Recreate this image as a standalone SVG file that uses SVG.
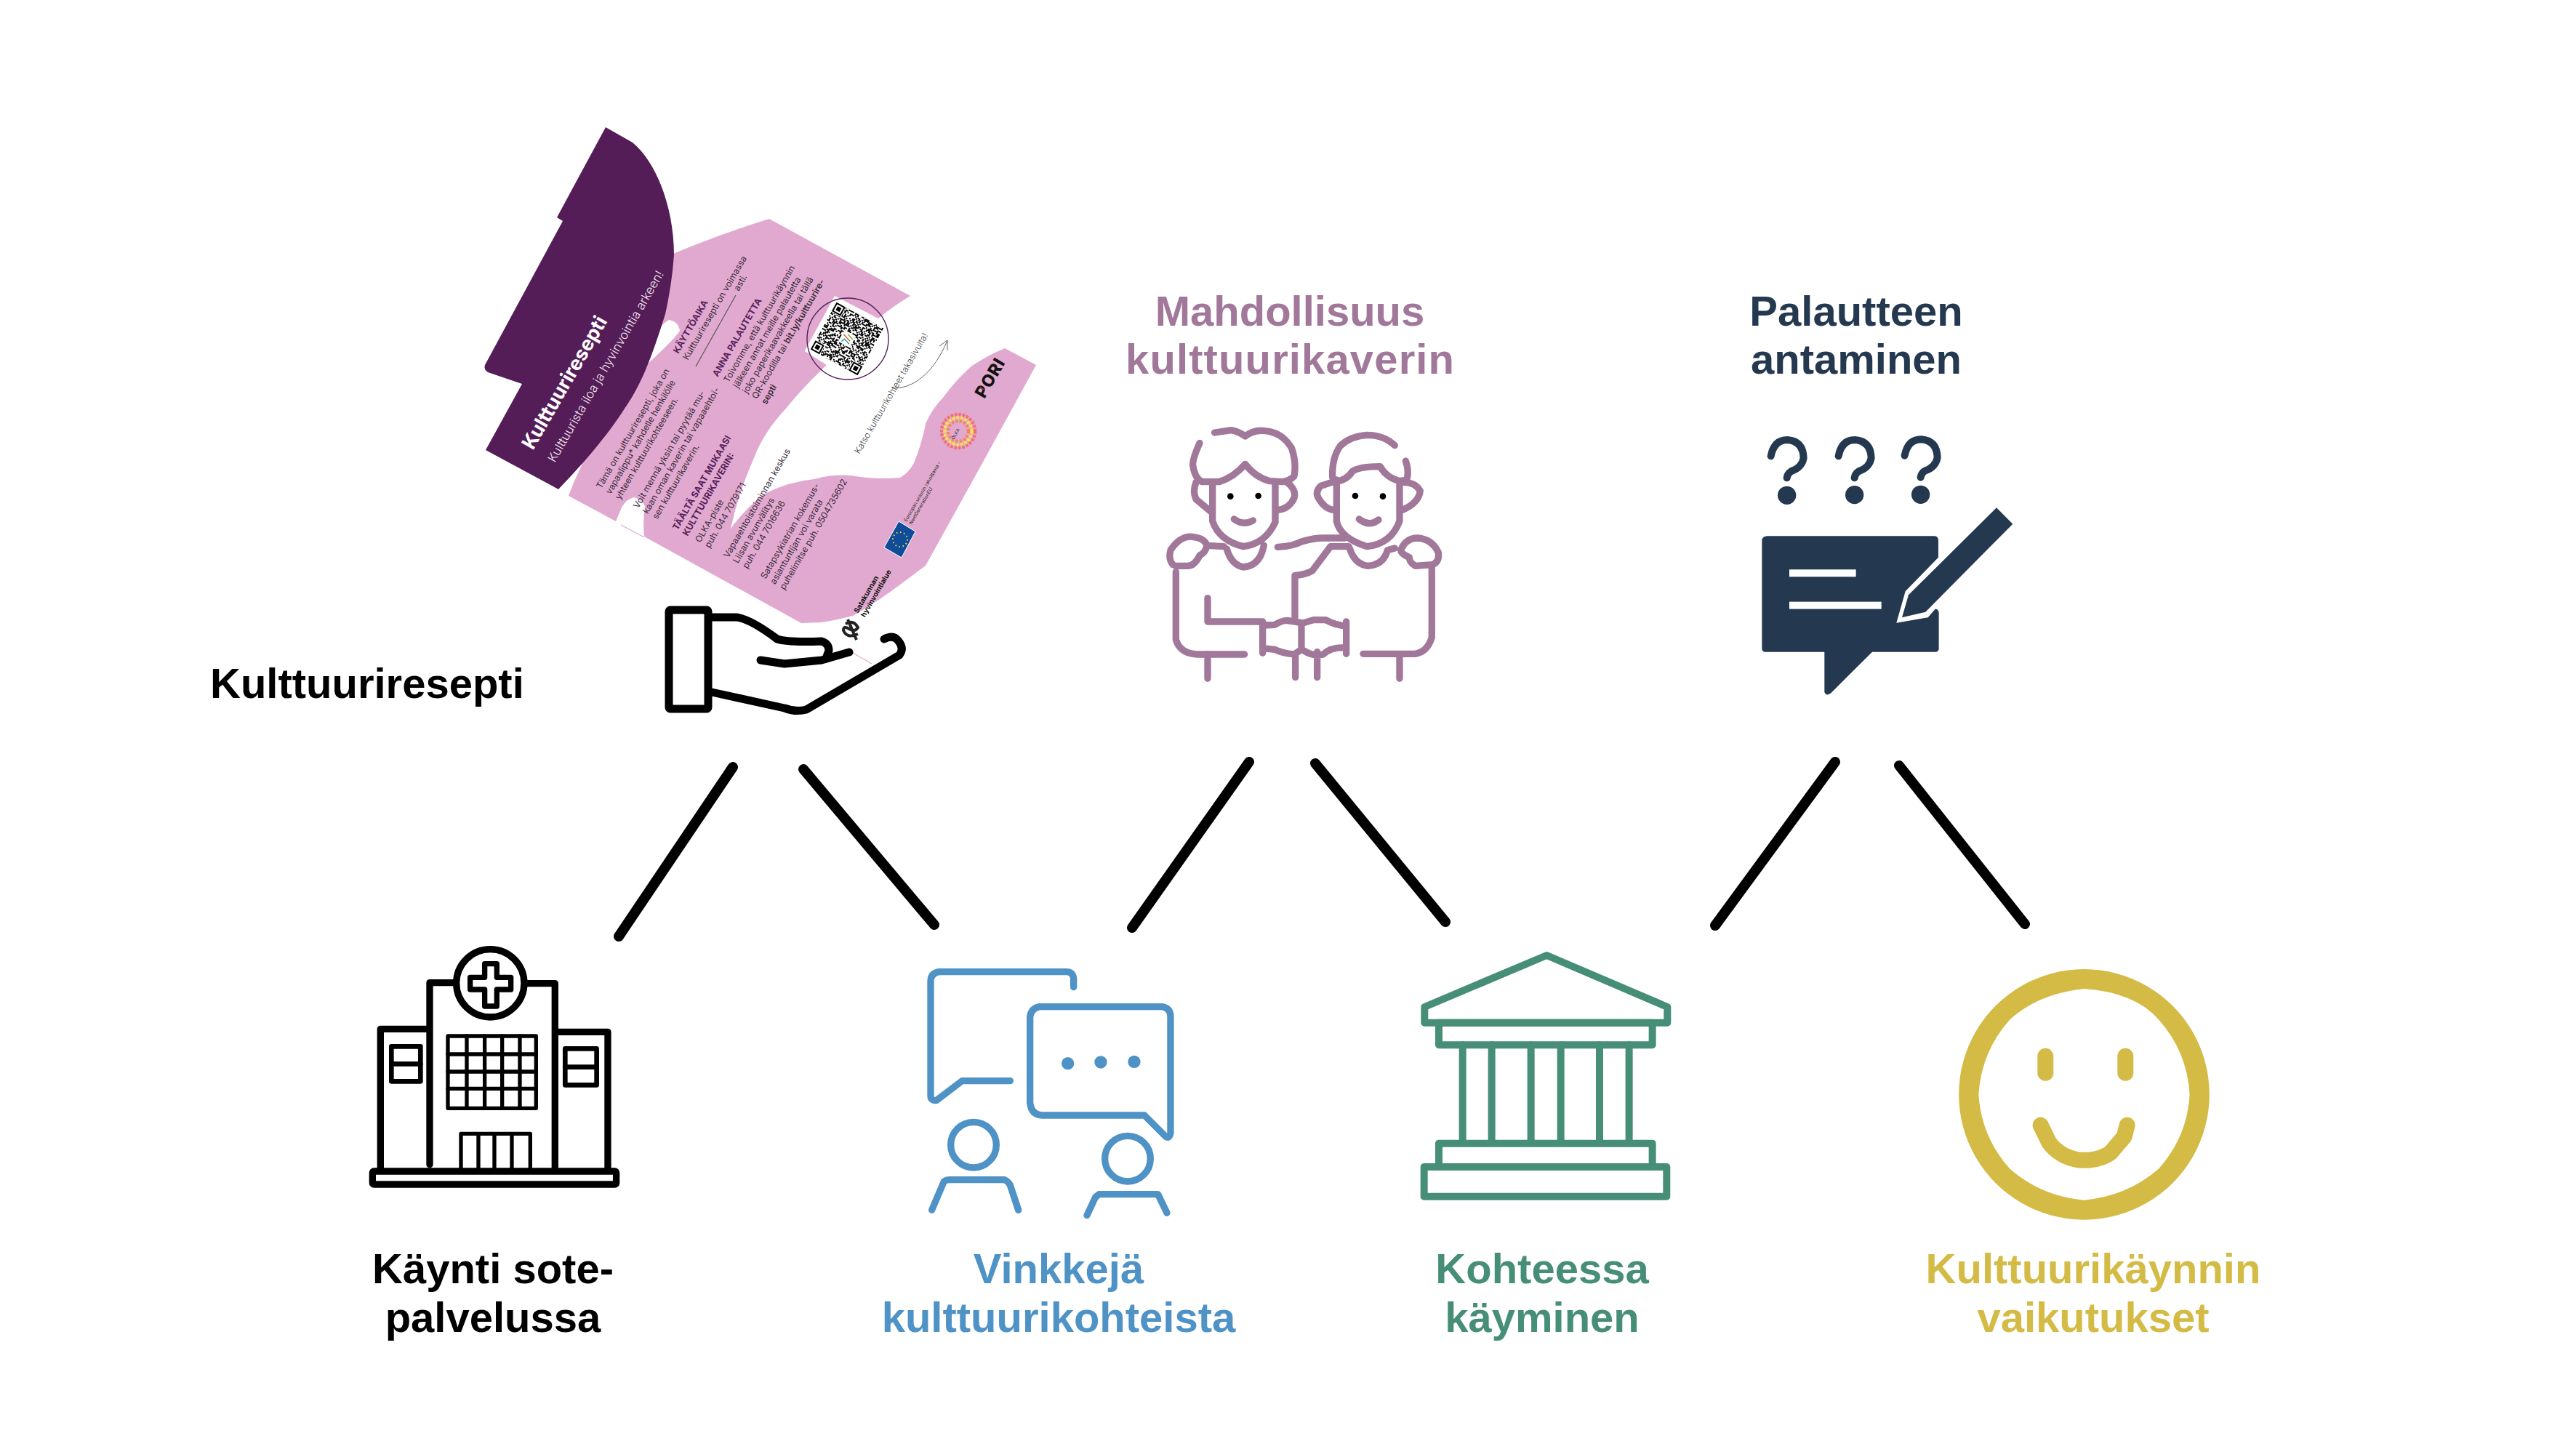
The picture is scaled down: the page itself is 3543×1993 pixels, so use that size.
<svg xmlns="http://www.w3.org/2000/svg" width="3543" height="1993" viewBox="0 0 3543 1993">
<style>
.lab{font-family:"Liberation Sans",Arial,sans-serif;font-weight:700;font-size:58px;text-anchor:middle}
.ln{fill:none;stroke-linecap:round;stroke-linejoin:round}
.t{font-family:Inter,"Liberation Sans",sans-serif;font-size:12.2px;fill:#3b2b3c}
.h{font-family:Inter,"Liberation Sans",sans-serif;font-size:12.4px;font-weight:700;fill:#55205a}
.q{fill:none;stroke:#000;stroke-width:2}
.conn{stroke:#000;stroke-width:14;stroke-linecap:round}
</style>
<rect width="3543" height="1993" fill="#fff"/>
<g id="connectors">
<path class="conn" d="M1008 1055L851 1288"/>
<path class="conn" d="M1105 1058L1285 1272"/>
<path class="conn" d="M1718 1048L1557 1276"/>
<path class="conn" d="M1809 1050L1988 1268"/>
<path class="conn" d="M2524 1048L2359 1273"/>
<path class="conn" d="M2612 1053L2785 1271"/>
</g>
<g id="leaflet">
<path fill="#e1a9cf" d="M900 360Q980 325 1058 301L1252 407Q1230 420 1208 438L1148 407L1107 483L1137 502Q1105 532 1080 563Q1050 595 1037 630Q1015 680 1005 727Q1025 700 1050 680Q1085 662 1120 659Q1145 652 1170 654Q1205 660 1238 657Q1250 650 1257 637Q1268 610 1273 583Q1282 562 1297 547Q1315 522 1337 503Q1360 488 1382 479L1425 502Q1350 640 1273 778L1230 810Q1200 832 1173 847Q1150 853 1130 856L1102 857L886 738Q884 715 887 697Q885 688 872 684Q862 686 855 698L847 717L782 682Q790 660 800 640Z"/>
<path fill="#fff" d="M890 480Q905 448 920 440Q933 442 935 455Q925 470 880 510Z"/>
<path stroke="#e1a9cf" stroke-width="1.2" fill="none" d="M854 722L886 739M1173 898L1199 913"/>
<path fill="#551d57" d="M833 175L870 196C905 225 927 290 927 350C925 380 920 410 915 432C900 480 885 525 859 562C835 600 800 640 768 673L668 619L718 528L671 512Q665 508 667 502L774 304L766 299Z"/>
<text transform="translate(733 620) rotate(-60)" font-family="Inter,'Liberation Sans',sans-serif" font-size="27" font-weight="700" fill="#fff">Kulttuuriresepti</text>
<text transform="translate(763 637) rotate(-60)" font-family="Inter,'Liberation Sans',sans-serif" font-size="17" font-weight="300" fill="#f0e6f0">Kulttuurista iloa ja hyvinvointia arkeen!</text>
<text class="t" transform="translate(827 673) rotate(-60)"><tspan x="0">Tämä on kulttuuriresepti, joka on</tspan><tspan x="0" dy="15">vapaalippu* kahdelle henkilölle</tspan><tspan x="0" dy="15">yhteen kulttuurikohteeseen.</tspan></text>
<text class="t" transform="translate(878 700) rotate(-60)"><tspan x="0">Voit mennä yksin tai pyytää mu-</tspan><tspan x="0" dy="15">kaan oman kaverin tai vapaaehtoi-</tspan><tspan x="0" dy="15">sen kulttuurikaverin.</tspan></text>
<text class="h" transform="translate(932 730) rotate(-60)"><tspan x="0">TÄÄLTÄ SAAT MUKAASI</tspan><tspan x="0" dy="16">KULTTUURIKAVERIN:</tspan></text>
<text class="t" transform="translate(963 747) rotate(-60)"><tspan x="0">OLKA-piste</tspan><tspan x="0" dy="15">puh. 044 7079171</tspan></text>
<text class="t" transform="translate(1002 768) rotate(-60)"><tspan x="0">Vapaaehtoistoiminnan keskus</tspan><tspan x="0" dy="15">Liisan avunvälitys</tspan><tspan x="0" dy="15">puh. 044 7016636</tspan></text>
<text class="t" transform="translate(1053 797) rotate(-60)"><tspan x="0">Satapsykiatrian kokemus-</tspan><tspan x="0" dy="15">asiantuntijan voi varata</tspan><tspan x="0" dy="15">puhelimitse puh. 0504735602</tspan></text>
<text class="h" transform="translate(933 487) rotate(-60)">KÄYTTÖAIKA</text>
<text class="t" transform="translate(946 496) rotate(-60)">Kulttuuriresepti on voimassa</text>
<path d="M957 504L1012 406" stroke="#555" stroke-width="1.2" fill="none"/>
<text class="t" transform="translate(1016 401) rotate(-60)">asti.</text>
<text class="h" transform="translate(987 519) rotate(-60)">ANNA PALAUTETTA</text>
<text class="t" transform="translate(1002 527) rotate(-60)"><tspan x="0">Toivomme, että kulttuurikäynnin</tspan><tspan x="0" dy="15">jälkeen annat meille palautetta</tspan><tspan x="0" dy="15">joko paperikaavakkeella tai tällä</tspan><tspan x="0" dy="15">QR-koodilla tai <tspan font-weight="600">bit.ly/kulttuurire-</tspan></tspan><tspan x="0" dy="15" font-weight="600">septi</tspan></text>
<g transform="translate(1124.3 477.7) rotate(-61)">
<rect x="-13" y="-13" width="86" height="86" fill="#fff"/>
<clipPath id="qc"><rect x="-7" y="-7" width="74" height="74"/></clipPath>
<g clip-path="url(#qc)">
<path class="q" stroke-dasharray="2 2 4 2 2 6 2 2 6 4 2 2 4 6 2 4 2 2 8 2 2 4 6 2 2 2 4 4 2 6 4 2 2 2" d="M-7 -6h130M-33 2h130M-13 10h130M-41 18h130M-19 26h130M-27 34h130M-9 42h130M-47 50h130M-23 58h130"/>
<path class="q" stroke-dasharray="4 2 2 4 2 2 8 2 2 4 4 2 2 6 2 2 4 2 2 2 6 4 2 2 4 2 8 2 2 4 2 2" d="M-21 -4h130M-45 4h130M-7 12h130M-35 20h130M-11 28h130M-51 36h130M-17 44h130M-29 52h130M-39 60h130"/>
<path class="q" stroke-dasharray="2 4 2 2 6 2 4 4 2 2 2 6 4 2 2 4 4 2 2 2 6 2 2 6 2 4 4 2 2 2 4 2" d="M-31 -2h130M-9 6h130M-43 14h130M-15 22h130M-37 30h130M-25 38h130M-49 46h130M-13 54h130M-5 62h130"/>
<path class="q" stroke-dasharray="6 2 2 2 4 6 2 2 2 4 2 2 4 2 2 8 2 4 2 2 4 4 6 2 2 2 2 6 2 2" d="M-15 0h130M-41 8h130M-25 16h130M-7 24h130M-47 32h130M-33 40h130M-11 48h130M-37 56h130M-19 64h130M-43 66h130"/>
</g>
<path fill="#fff" d="M-8 -8h16v16h-16zM52 -8h16v16h-16zM-8 52h16v16h-16zM21 21h18v18h-18z"/>
<g fill="none" stroke="#000" stroke-width="2"><rect x="-6" y="-6" width="12" height="12"/><rect x="54" y="-6" width="12" height="12"/><rect x="-6" y="54" width="12" height="12"/></g>
<path d="M-3 -3h6v6h-6zM57 -3h6v6h-6zM-3 57h6v6h-6z"/>
<path d="M23 25l5 2-3 9" fill="none" stroke="#2aa5b5" stroke-width="1.5"/><path d="M29 35l4-12" fill="none" stroke="#e8622c" stroke-width="1.5"/><path d="M33 37l3-9" fill="none" stroke="#7bb23f" stroke-width="1.5"/>
</g>
<circle cx="1166" cy="466" r="56" fill="none" stroke="#55205a" stroke-width="1.4"/>
<text transform="translate(1182 625) rotate(-60)" font-family="Inter,'Liberation Sans',sans-serif" font-size="12.2" font-weight="300" fill="#444">Katso kulttuurikohteet takasivulta!</text>
<path d="M1227 534C1265 535 1290 500 1303 468M1292 476L1303 468L1303 482" fill="none" stroke="#666" stroke-width="1"/>
<path d="M1236 717L1259 731L1240 767L1216 753Z" fill="#0f4c9a" stroke="#fff" stroke-width="1"/>
<circle cx="1238" cy="742" r="10" fill="none" stroke="#f6d92e" stroke-width="2" stroke-dasharray="1.6 3.6"/>
<text transform="translate(1247 718) rotate(-60)" font-family="Inter,'Liberation Sans',sans-serif" font-size="6.6" fill="#222"><tspan x="0">Euroopan unionin rahoittama –</tspan><tspan x="0" dy="8">NextGenerationEU</tspan></text>
<g fill="none" stroke-width="4.6"><circle cx="1318" cy="593" r="23" stroke="#f0707a" stroke-dasharray="3.6 1.8"/><circle cx="1318" cy="593" r="18.5" stroke="#f8e050" stroke-dasharray="3.6 2"/><circle cx="1318" cy="593" r="14" stroke="#f2866a" stroke-dasharray="3.4 2.2"/></g>
<text transform="translate(1312 605) rotate(-60)" font-family="Inter,'Liberation Sans',sans-serif" font-size="6" fill="#222">OLKA</text>
<text transform="translate(1354 549) rotate(-60)" font-family="Inter,'Liberation Sans',sans-serif" font-size="23" font-weight="800" letter-spacing="1" fill="#111">PORI</text>
<path d="M1348 532L1353 536" stroke="#d33" stroke-width="1.2"/>
<text transform="translate(1180 844) rotate(-60)" font-family="Inter,'Liberation Sans',sans-serif" font-size="9.8" font-weight="700" fill="#111"><tspan x="0">Satakunnan</tspan><tspan x="0" dy="11">hyvinvointialue</tspan></text>
<path d="M1163 858Q1174 852 1180 863Q1176 870 1168 865Q1160 860 1160 867Q1165 879 1180 872M1166 852L1178 880" fill="none" stroke="#222" stroke-width="4"/>
</g>
<g id="hand" class="ln" stroke="#000" stroke-width="11">
<rect x="920" y="839" width="54" height="136" rx="2"/>
<path d="M979 849H1012Q1030 850 1069 879Q1085 884 1130 882Q1140 885 1140 895L1137 903"/>
<path d="M1046 908L1079 913L1130 908L1168 897"/>
<path d="M1216 879Q1229 872 1236 882Q1244 892 1237 901L1109 976Q1095 980 1079 974L979 952"/>
</g>
<g id="people" class="ln" stroke="#a1779a" stroke-width="28" transform="translate(1550 560) scale(.3333)">
<path d="M362 105L430 95Q460 100 488 120Q520 95 560 97Q640 100 680 170Q700 230 690 285Q670 305 640 308L590 305Q530 290 488 235Q440 290 380 308L310 308Q280 295 272 240Q270 215 300 148"/>
<path d="M353 315V470Q380 550 480 575Q570 565 612 475V315M285 310Q270 350 285 380L345 430M660 310Q700 340 690 375Q670 420 620 425M412 585Q430 650 480 660Q550 655 565 570M345 572L400 575"/>
<path d="M190 650Q170 630 180 590Q220 530 270 535Q320 540 330 570Q325 600 300 612Q280 655 250 655H200M202 680V960Q220 1018 290 1020H485"/>
<path d="M333 788V885H560V1015M570 900L610 898Q640 880 660 880L720 890V1000L690 1020Q640 1015 610 1000L560 995M730 890L770 878H820Q860 900 905 903M905 885V1018M730 1005Q770 1030 810 1020Q840 990 900 992M333 1020V1120M695 1020V1115M785 1010V1115M1125 1020V1120"/>
<path d="M693 870V695Q740 690 765 675L840 575H915M918 580Q940 650 995 655Q1060 650 1075 590L1105 582M622 577Q680 575 720 555Q770 540 810 540H900"/>
<path d="M1105 158Q1060 115 990 115Q920 120 880 160Q845 210 848 290M865 300V470Q880 540 990 575Q1090 565 1125 470V315M855 310Q910 300 930 265Q960 245 1045 245Q1070 290 1125 305L1155 300Q1165 260 1150 222M845 310L800 325Q775 350 790 375Q815 420 855 425M1140 310Q1190 310 1210 345Q1205 395 1135 425"/>
<path d="M1130 590Q1150 540 1200 540Q1260 545 1285 600Q1290 640 1260 650L1190 655Q1165 640 1165 620Q1130 605 1130 590M1258 655V950Q1240 1010 1190 1018H975"/>
<path d="M442 462Q480 490 520 468M958 462Q1000 495 1038 465"/>
<g fill="#000" stroke="none"><circle cx="427" cy="368" r="13"/><circle cx="542" cy="366" r="13"/><circle cx="942" cy="366" r="13"/><circle cx="1056" cy="368" r="13"/></g>
</g>
<g id="feedback" transform="translate(2380 570) scale(.3333)" fill="#243950">
<path d="M150 502H840Q858 502 858 520V590L722 730L685 860L815 838L845 803Q860 803 860 820V965Q860 980 845 980H585L415 1150Q395 1165 388 1145V980H145Q130 980 130 965V520Q130 505 150 502Z"/>
<path d="M1098 385L1165 452L805 815L708 838L735 745Z"/>
<rect x="243" y="640" width="275" height="30" fill="#fff"/><rect x="243" y="773" width="380" height="30" fill="#fff"/>
<path class="ln" stroke="#243950" stroke-width="30" d="M167 172Q180 105 235 105Q300 110 302 180Q295 220 250 235Q235 245 233 262M446 172Q459 105 514 105Q579 110 581 180Q574 220 529 235Q514 245 512 262M719 170Q732 103 787 103Q852 108 854 178Q847 218 802 233Q787 243 785 260"/>
<circle cx="233" cy="334" r="38"/><circle cx="512" cy="332" r="38"/><circle cx="785" cy="331" r="38"/>
</g>
<g id="hospital" class="ln" stroke="#000" stroke-width="28" transform="translate(490 1280) scale(.3333)">
<rect x="67" y="993" width="1006" height="54" rx="6"/>
<path d="M100 980V406H300M303 965V215H405M705 218H820V980M830 418H1038V980"/>
<circle cx="553" cy="217" r="140"/>
<path stroke-width="22" d="M530 137H580V193H638V243H580V312H530V243H470V193H530Z"/>
<g stroke-width="20"><rect x="145" y="478" width="120" height="144"/><path d="M145 550H265"/><rect x="862" y="487" width="130" height="150"/><path d="M862 563H992"/></g>
<g stroke-width="16"><rect x="378" y="435" width="364" height="298"/><path d="M456 435V733M530 435V733M602 435V733M675 435V733M378 510H742M378 582H742M378 652H742"/><path d="M432 980V838H718V980M504 838V980M570 838V980M642 838V980"/></g>
</g>
<g id="chat" class="ln" stroke="#4e92c6" stroke-width="28" transform="translate(1250 1310) scale(.3333)">
<path d="M680 143V105Q675 80 650 80H125Q90 85 90 120V590Q90 615 115 610L220 530H418"/>
<path d="M540 224H1045Q1080 230 1080 265V745Q1075 770 1060 760L972 672H550Q505 670 500 620V265Q505 230 540 224Z"/>
<circle cx="267" cy="794" r="94"/><circle cx="903" cy="851" r="94"/>
<path d="M95 1063L145 945Q155 938 170 938H395Q410 945 418 960L452 1063M735 1085L770 1010L785 998H1028L1065 1075"/>
<g fill="#4e92c6" stroke="none"><circle cx="656" cy="458" r="26"/><circle cx="792" cy="453" r="26"/><circle cx="930" cy="451" r="26"/></g>
</g>
<g id="temple" class="ln" stroke="#468e78" stroke-width="30" transform="translate(1930 1290) scale(.3333)">
<path d="M592 72L88 285V350H1090V285Z"/>
<rect x="147" y="350" width="881" height="92"/>
<path d="M245 442V848M365 442V848M527 442V848M650 442V848M810 442V848M932 442V848M147 945V848H1028V945"/>
<rect x="86" y="945" width="1001" height="122"/>
</g>
<g id="smiley" transform="translate(2660 1310) scale(.3333)">
<path fill="#d4bb45" fill-rule="evenodd" d="M620 69A517 517 0 1 1 619 69ZM620 150Q830 165 928 278Q1045 410 1055 586Q1045 760 928 892Q800 1005 620 1022Q440 1005 312 892Q195 760 184 586Q195 410 312 278Q430 170 620 150Z"/>
<path class="ln" stroke="#d4bb45" stroke-width="66" d="M460 428V497M790 428V497M440 713L475 785Q520 845 600 857H640Q700 850 730 825L785 760L797 713"/>
</g>
<g id="labels">
<text class="lab" style="text-anchor:start" x="289" y="960">Kulttuuriresepti</text>
<text class="lab" fill="#a1779a" x="1774" y="448">Mahdollisuus</text><text class="lab" fill="#a1779a" x="1774" y="514" textLength="452">kulttuurikaverin</text>
<text class="lab" fill="#243950" x="2553" y="448">Palautteen</text><text class="lab" fill="#243950" x="2553" y="514">antaminen</text>
<text class="lab" x="678" y="1765">Käynti sote-</text><text class="lab" x="678" y="1832">palvelussa</text>
<text class="lab" fill="#4e92c6" x="1456" y="1765">Vinkkejä</text><text class="lab" fill="#4e92c6" x="1456" y="1832">kulttuurikohteista</text>
<text class="lab" fill="#468e78" x="2121" y="1765">Kohteessa</text><text class="lab" fill="#468e78" x="2121" y="1832">käyminen</text>
<text class="lab" fill="#d4bb45" x="2879" y="1765">Kulttuurikäynnin</text><text class="lab" fill="#d4bb45" x="2879" y="1832">vaikutukset</text>
</g>
</svg>
